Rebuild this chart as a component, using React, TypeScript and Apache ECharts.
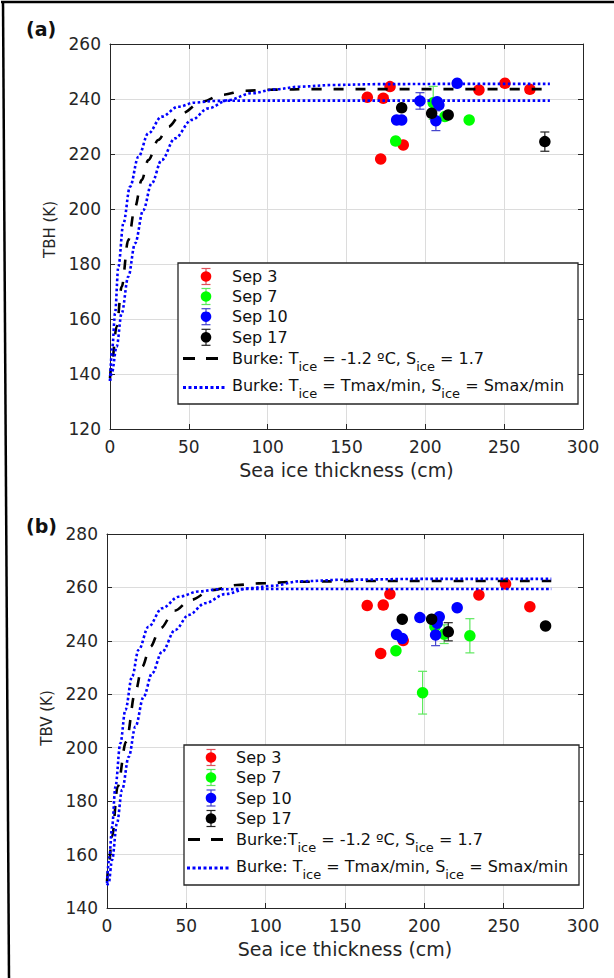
import React, { useEffect, useRef } from 'react';
import * as echarts from 'echarts';

// ---------- data ----------
const xTicks = [0, 50, 100, 150, 200, 250, 300];
const yTicksA = [120, 140, 160, 180, 200, 220, 240, 260];
const yTicksB = [140, 160, 180, 200, 220, 240, 260, 280];

const legendLabels = ['Sep 3', 'Sep 7', 'Sep 10', 'Sep 17'];
const burkeLabelA = 'Burke: T{sub|ice} = -1.2 ºC, S{sub|ice} = 1.7';
const burkeLabelB = 'Burke:T{sub|ice} = -1.2 ºC, S{sub|ice} = 1.7';
const burkeRangeLabel = 'Burke: T{sub|ice} = Tmax/min, S{sub|ice} = Smax/min';
const xTitle = 'Sea ice thickness (cm)';
const yTitleA = 'TBH (K)';
const yTitleB = 'TBV (K)';

// Panel (a) TBH observations: thickness (cm), TB (K), error (K)
const sep3A_x = [163.2, 173.3, 177.6, 234.0, 250.5, 266.3, 186.0, 171.7];
const sep3A_y = [240.6, 240.3, 244.5, 243.3, 245.7, 243.5, 223.3, 218.2];
const sep3A_e = [1.0, 1.0, 1.0, 1.0, 1.0, 1.0, 1.0, 1.0];
const sep7A_x = [181.2, 227.8, 205.0, 212.4];
const sep7A_y = [224.7, 232.4, 238.6, 233.6];
const sep7A_e = [1.0, 1.0, 6.0, 1.0];
const sep10A_x = [196.6, 207.5, 208.6, 220.2, 181.8, 185.0, 206.7];
const sep10A_y = [239.3, 239.0, 237.8, 245.7, 232.4, 232.4, 232.1];
const sep10A_e = [3.0, 1.0, 1.0, 1.0, 1.0, 1.0, 3.6];
const sep17A_x = [185.0, 204.0, 214.5, 275.8];
const sep17A_y = [236.8, 234.8, 234.2, 224.5];
const sep17A_e = [1.0, 1.0, 1.0, 3.5];

// Panel (b) TBV observations
const sep3B_x = [164.0, 174.1, 178.3, 234.4, 251.2, 266.5, 172.5, 186.7];
const sep3B_y = [253.2, 253.4, 257.5, 257.2, 261.3, 252.8, 235.3, 240.1];
const sep3B_e = [1.0, 1.0, 1.0, 1.0, 1.0, 1.0, 1.0, 1.0];
const sep7B_x = [182.1, 198.9, 228.7, 206.7, 212.5];
const sep7B_y = [236.3, 220.6, 241.9, 245.3, 242.5];
const sep7B_e = [1.0, 8.0, 6.4, 1.0, 3.5];
const sep10B_x = [197.2, 209.4, 208.1, 220.7, 182.5, 186.1, 207.1];
const sep10B_y = [248.7, 249.0, 246.6, 252.4, 242.4, 240.9, 242.2];
const sep10B_e = [1.0, 1.0, 1.0, 1.0, 1.0, 1.0, 4.0];
const sep17B_x = [186.1, 204.6, 215.1, 276.4];
const sep17B_y = [248.1, 248.1, 243.4, 245.6];
const sep17B_e = [1.0, 1.0, 3.4, 1.0];

// Burke model curves (a)
const burkeA_x = [0, 1.1, 4.2, 7.4, 11.6, 15.9, 20.1, 24.3, 30.6, 37.0, 45.5, 58.1, 70.8, 85.6, 102.5, 130, 170, 220, 278];
const burkeA_y = [138.5, 143.9, 157.2, 171.7, 188.7, 200.8, 210.5, 217.8, 225.1, 229.9, 234.8, 239.0, 241.5, 243.0, 243.4, 243.6, 243.6, 243.6, 243.6];
const fastA_x = [0, 1.5, 3.2, 5.3, 8.5, 12.7, 18.0, 24.3, 32.8, 43.3, 53.9, 66.6, 85, 120, 200, 279];
const fastA_y = [137.5, 149.9, 162.1, 179.0, 194.8, 208.1, 219.0, 227.5, 233.6, 237.2, 238.7, 239.3, 239.4, 239.4, 239.4, 239.4];
const slowA_x = [0, 1.1, 4.2, 7.4, 11.6, 15.9, 21.1, 26.4, 32.8, 41.2, 51.8, 62.3, 75.0, 89.8, 104.6, 120.5, 141.5, 170, 220, 279];
const slowA_y = [137.5, 140.3, 149.9, 162.1, 175.4, 187.5, 199.6, 209.3, 217.8, 225.7, 232.4, 236.6, 239.6, 242.1, 243.5, 244.5, 245.1, 245.4, 245.5, 245.5];

// Burke model curves (b)
const burkeB_x = [0, 1.0, 3.2, 6.7, 12.0, 17.9, 22.1, 27.3, 33.6, 42.6, 52.5, 66.2, 81.9, 95.6, 120, 160, 220, 280];
const burkeB_y = [150.0, 155.4, 166.7, 185.4, 202.2, 221.0, 230.3, 237.8, 244.7, 251.3, 255.3, 259.0, 260.9, 261.5, 262.1, 262.4, 262.4, 262.4];
const fastB_x = [0, 1.5, 3.2, 5.3, 8.4, 11.6, 15.8, 19.9, 26.2, 34.7, 45.2, 57.8, 70.4, 90, 150, 280];
const fastB_y = [149.2, 159.2, 170.4, 185.4, 201.6, 214.1, 226.6, 236.6, 245.3, 252.2, 256.5, 258.5, 259.3, 259.4, 259.4, 259.4];
const slowB_x = [0, 1.0, 3.2, 6.3, 9.5, 13.7, 17.9, 23.1, 28.4, 34.7, 43.0, 51.5, 61.9, 74.5, 89.3, 104.0, 121.6, 150, 200, 280];
const slowB_y = [148.5, 149.2, 158.0, 171.7, 184.2, 196.6, 207.9, 219.1, 227.8, 235.9, 244.1, 249.7, 254.1, 257.5, 259.7, 260.6, 262.3, 262.9, 263.2, 263.2];

// ---------- styles ----------
const FONT = 'DejaVu Sans';
const AX = '#262626';
const dotColors = ['#ff0000', '#00ff00', '#0000ff', '#000000'];
const errColors = ['#e0505a', '#5ee85e', '#4646cc', '#222222'];

const zip2 = (xs: number[], ys: number[]) => xs.map((x, i) => [x, ys[i]]);
const zip3 = (xs: number[], ys: number[], es: number[]) => xs.map((x, i) => [x, ys[i], es[i]]);

function errRender(color: string) {
  return (params: any, api: any) => {
    const x = api.value(0);
    const y = api.value(1);
    const e = api.value(2);
    const top = api.coord([x, y + e]);
    const bot = api.coord([x, y - e]);
    const hw = 4.5;
    const st = { stroke: color, lineWidth: 1.2 };
    return {
      type: 'group',
      children: [
        { type: 'line', shape: { x1: top[0], y1: top[1], x2: bot[0], y2: bot[1] }, style: st },
        { type: 'line', shape: { x1: top[0] - hw, y1: top[1], x2: top[0] + hw, y2: top[1] }, style: st },
        { type: 'line', shape: { x1: bot[0] - hw, y1: bot[1], x2: bot[0] + hw, y2: bot[1] }, style: st },
      ],
    };
  };
}

function panelSeries(gi: number, obs: number[][][], burke: number[][], fast: number[][], slow: number[][]) {
  const xi = gi * 2;
  const yi = gi * 2;
  const out: any[] = [];
  obs.forEach((d, k) => {
    out.push({
      type: 'custom',
      name: legendLabels[k] + ' err',
      xAxisIndex: xi,
      yAxisIndex: yi,
      renderItem: errRender(errColors[k]),
      encode: { x: 0, y: 1 },
      data: d,
      z: 2 + k * 0.1,
      silent: true,
    });
    out.push({
      type: 'scatter',
      name: legendLabels[k],
      xAxisIndex: xi,
      yAxisIndex: yi,
      data: d.map((p) => [p[0], p[1]]),
      symbol: 'circle',
      symbolSize: 11.5,
      itemStyle: { color: dotColors[k], opacity: 1 },
      z: 2.05 + k * 0.1,
    });
  });
  const lineCommon = {
    type: 'line',
    xAxisIndex: xi,
    yAxisIndex: yi,
    showSymbol: false,
    symbol: 'none',
    smooth: 0.35,
    smoothMonotone: 'x',
    z: 4,
  };
  out.push({ ...lineCommon, name: 'Burke', data: burke, lineStyle: { color: '#000', width: 2.6, type: [10, 12] } });
  out.push({ ...lineCommon, name: 'Burke fast', data: fast, lineStyle: { color: '#0000ff', width: 2.6, type: [2.6, 2.4] } });
  out.push({ ...lineCommon, name: 'Burke slow', data: slow, lineStyle: { color: '#0000ff', width: 2.6, type: [2.6, 2.4] } });
  return out;
}

function xAxes(gi: number) {
  const base = {
    gridIndex: gi,
    type: 'value',
    min: 0,
    max: 300,
    interval: 50,
    axisLine: { show: true, onZero: false, lineStyle: { color: AX, width: 1 } },
    axisTick: { show: true, inside: true, length: 5, lineStyle: { color: AX } },
  };
  return [
    {
      ...base,
      position: 'bottom',
      axisLabel: {
        show: true, margin: 9, color: AX, fontSize: 17, fontFamily: FONT,
        formatter: (v: number) => (xTicks.includes(v) ? String(v) : ''),
      },
      splitLine: { show: true, lineStyle: { color: '#dcdcdc', width: 1 } },
      name: xTitle,
      nameLocation: 'middle',
      nameGap: 31,
      nameTextStyle: { color: AX, fontSize: 19, fontFamily: FONT },
    },
    { ...base, position: 'top', axisLabel: { show: false }, splitLine: { show: false } },
  ];
}

function yAxes(gi: number, ticks: number[], title: string, gap: number, pad: number[]) {
  const base = {
    gridIndex: gi,
    type: 'value',
    min: ticks[0],
    max: ticks[ticks.length - 1],
    interval: 20,
    axisLine: { show: true, onZero: false, lineStyle: { color: AX, width: 1 } },
    axisTick: { show: true, inside: true, length: 5, lineStyle: { color: AX } },
  };
  return [
    {
      ...base,
      position: 'left',
      axisLabel: {
        show: true, margin: 9, color: AX, fontSize: 17, fontFamily: FONT,
        formatter: (v: number) => (ticks.includes(v) ? String(v) : ''),
      },
      splitLine: { show: true, lineStyle: { color: '#dcdcdc', width: 1 } },
      name: title,
      nameLocation: 'middle',
      nameGap: gap,
      nameTextStyle: { color: AX, fontSize: 15, fontFamily: FONT, padding: pad },
    },
    { ...base, position: 'right', axisLabel: { show: false }, splitLine: { show: false } },
  ];
}

function legendGraphic(box: { x: number; y: number; w: number; h: number }, mx: number, rows: number[], tx: number,
  dashY: number, dashX: number[], dotY: number, dotX: number[], dashLabel: string) {
  const els: any[] = [];
  els.push({
    type: 'rect', shape: { x: box.x, y: box.y, width: box.w, height: box.h },
    style: { fill: '#fff', stroke: AX, lineWidth: 1.3 }, z: 100,
  });
  legendLabels.forEach((lab, k) => {
    const cy = rows[k];
    const st = { stroke: errColors[k], lineWidth: 1.2 };
    els.push({ type: 'line', shape: { x1: mx, y1: cy - 8, x2: mx, y2: cy + 8 }, style: st, z: 101 });
    els.push({ type: 'line', shape: { x1: mx - 4.5, y1: cy - 8, x2: mx + 4.5, y2: cy - 8 }, style: st, z: 101 });
    els.push({ type: 'line', shape: { x1: mx - 4.5, y1: cy + 8, x2: mx + 4.5, y2: cy + 8 }, style: st, z: 101 });
    els.push({ type: 'circle', shape: { cx: mx, cy, r: 5.3 }, style: { fill: dotColors[k] }, z: 102 });
    els.push({
      type: 'text', x: tx, y: cy, z: 102,
      style: { text: lab, fontSize: 16, fontFamily: FONT, fill: '#111', verticalAlign: 'middle', align: 'left' },
    });
  });
  const rich = { sub: { fontSize: 13, fontFamily: FONT, fill: '#111', padding: [16, 0, 0, 0] } };
  els.push({
    type: 'line', shape: { x1: dashX[0], y1: dashY, x2: dashX[1], y2: dashY },
    style: { stroke: '#000', lineWidth: 3, lineDash: [12, 11] }, z: 101,
  });
  els.push({
    type: 'text', x: tx, y: dashY, z: 102,
    style: { text: dashLabel, fontSize: 16, fontFamily: FONT, fill: '#111', verticalAlign: 'middle', align: 'left', rich },
  });
  els.push({
    type: 'line', shape: { x1: dotX[0], y1: dotY, x2: dotX[1], y2: dotY },
    style: { stroke: '#0000ff', lineWidth: 3, lineDash: [3, 2.5] }, z: 101,
  });
  els.push({
    type: 'text', x: tx, y: dotY - 2, z: 102,
    style: { text: burkeRangeLabel, fontSize: 16, fontFamily: FONT, fill: '#111', verticalAlign: 'middle', align: 'left', rich },
  });
  return els;
}

export default function App() {
  const ref = useRef<HTMLDivElement>(null);
  useEffect(() => {
    document.body.style.margin = '0';
    if (!ref.current) return;
    const chart = echarts.init(ref.current, undefined, { renderer: 'svg' });

    const obsA = [zip3(sep3A_x, sep3A_y, sep3A_e), zip3(sep7A_x, sep7A_y, sep7A_e), zip3(sep10A_x, sep10A_y, sep10A_e), zip3(sep17A_x, sep17A_y, sep17A_e)];
    const obsB = [zip3(sep3B_x, sep3B_y, sep3B_e), zip3(sep7B_x, sep7B_y, sep7B_e), zip3(sep10B_x, sep10B_y, sep10B_e), zip3(sep17B_x, sep17B_y, sep17B_e)];

    const option: any = {
      animation: false,
      backgroundColor: '#ffffff',
      grid: [
        { left: 110, top: 44, width: 473, height: 385, containLabel: false },
        { left: 107, top: 534, width: 476, height: 374, containLabel: false },
      ],
      xAxis: [...xAxes(0), ...xAxes(1)],
      yAxis: [...yAxes(0, yTicksA, yTitleA, 53, [0, 0, 0, 14]), ...yAxes(1, yTicksB, yTitleB, 47, [0, 0, 0, 6])],
      series: [
        ...panelSeries(0, obsA, zip2(burkeA_x, burkeA_y), zip2(fastA_x, fastA_y), zip2(slowA_x, slowA_y)),
        ...panelSeries(1, obsB, zip2(burkeB_x, burkeB_y), zip2(fastB_x, fastB_y), zip2(slowB_x, slowB_y)),
      ],
      graphic: [
        { type: 'line', shape: { x1: 1, y1: 2, x2: 614, y2: 2 }, style: { stroke: '#000', lineWidth: 2.5 }, z: 200 },
        { type: 'line', shape: { x1: 3, y1: 1, x2: 9, y2: 978 }, style: { stroke: '#000', lineWidth: 2.5 }, z: 200 },
        {
          type: 'text', x: 26, y: 29, z: 200,
          style: { text: '(a)', fontSize: 19, fontWeight: 'bold', fontFamily: FONT, fill: '#111', verticalAlign: 'middle', align: 'left' },
        },
        {
          type: 'text', x: 26, y: 526, z: 200,
          style: { text: '(b)', fontSize: 19, fontWeight: 'bold', fontFamily: FONT, fill: '#111', verticalAlign: 'middle', align: 'left' },
        },
        ...legendGraphic({ x: 178, y: 263, w: 400, h: 141 }, 206, [276.5, 296.5, 316.7, 337.3], 232,
          358.5, [183, 218], 387.5, [183, 225], burkeLabelA),
        ...legendGraphic({ x: 184, y: 745, w: 395, h: 140 }, 211, [757.5, 777.5, 798, 818.5], 236,
          839.5, [188, 223], 868, [187, 230], burkeLabelB),
      ],
    };
    chart.setOption(option);
    return () => chart.dispose();
  }, []);
  return <div ref={ref} style={{ width: 614, height: 978 }} />;
}
